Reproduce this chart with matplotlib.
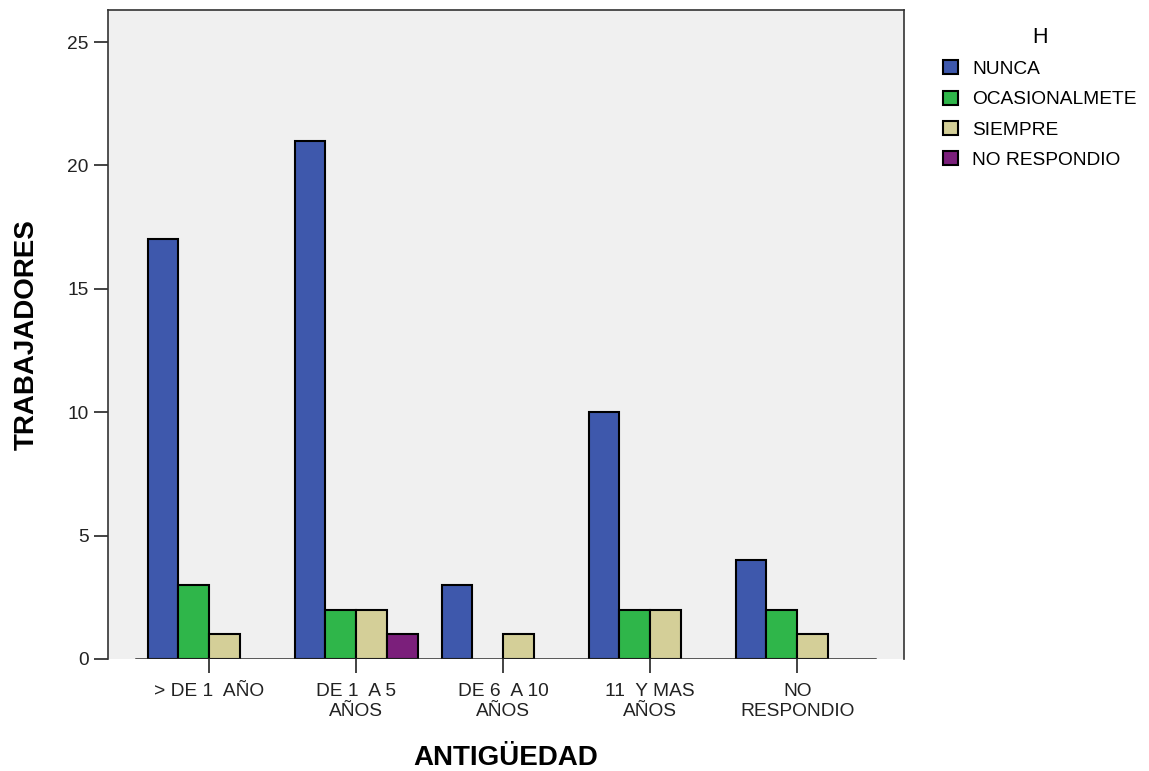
import matplotlib.pyplot as plt
import numpy as np
from matplotlib.patches import Patch

plt.rcParams['font.family'] = ['Liberation Sans', 'DejaVu Sans']

# data
categorias = ['> DE 1  AÑO', 'DE 1  A 5\nAÑOS', 'DE 6  A 10\nAÑOS', '11  Y MAS\nAÑOS', 'NO\nRESPONDIO']
series = ['NUNCA', 'OCASIONALMETE', 'SIEMPRE', 'NO RESPONDIO']
nunca = [17, 21, 3, 10, 4]
ocasional = [3, 2, 0, 2, 2]
siempre = [1, 2, 1, 2, 1]
no_resp = [0, 1, 0, 0, 0]
yticks = [0, 5, 10, 15, 20, 25]

colores = ['#3e58ac', '#2fb64a', '#d4cf98', '#7b1f7b']
valores = [nunca, ocasional, siempre, no_resp]

fig = plt.figure(figsize=(11.49, 7.71), dpi=100)
ax = fig.add_axes([0.094, 0.1453, 0.693, 0.8417])
ax.set_facecolor('#f0f0f0')

x = np.arange(len(categorias))
w = 0.209
for i, (vals, col) in enumerate(zip(valores, colores)):
    vals = np.array(vals)
    pos = x + (i - 1.5) * w
    keep = vals > 0
    ax.bar(pos[keep], vals[keep], width=w, color=col, edgecolor='black', linewidth=1.5, zorder=3)

# baseline over the category range
ax.plot([-0.5, 4.53], [0, 0], color='#2a2a2a', linewidth=1.8, zorder=4)

ax.set_xlim(-0.687, 4.728)
ax.set_ylim(0, 26.3)
ax.set_yticks(yticks)
ax.set_xticks(x)
ax.set_xticklabels(categorias, fontsize=13.8, linespacing=1.3)
ax.tick_params(axis='y', labelsize=13.8, length=10, width=1.2, pad=4, colors='#222222')
ax.tick_params(axis='x', length=10, width=1.2, pad=7, colors='#222222')
ax.spines['bottom'].set_visible(False)
for s in ['left', 'top', 'right']:
    ax.spines[s].set_color('#333333')
    ax.spines[s].set_linewidth(1.2)

ax.set_xlabel('ANTIGÜEDAD', fontsize=20, fontweight='bold', labelpad=18)
ax.set_ylabel('TRABAJADORES', fontsize=20, fontweight='bold', labelpad=20)

handles = [Patch(facecolor=c, edgecolor='black', linewidth=1.5) for c in colores]
leg = fig.legend(handles, series, title='H', loc='upper left', bbox_to_anchor=(0.806, 0.988),
                 frameon=False, fontsize=13.8, title_fontsize=15.5,
                 handlelength=0.75, handleheight=0.75, handletextpad=0.75, labelspacing=0.66)

plt.savefig('out.png', dpi=100)
